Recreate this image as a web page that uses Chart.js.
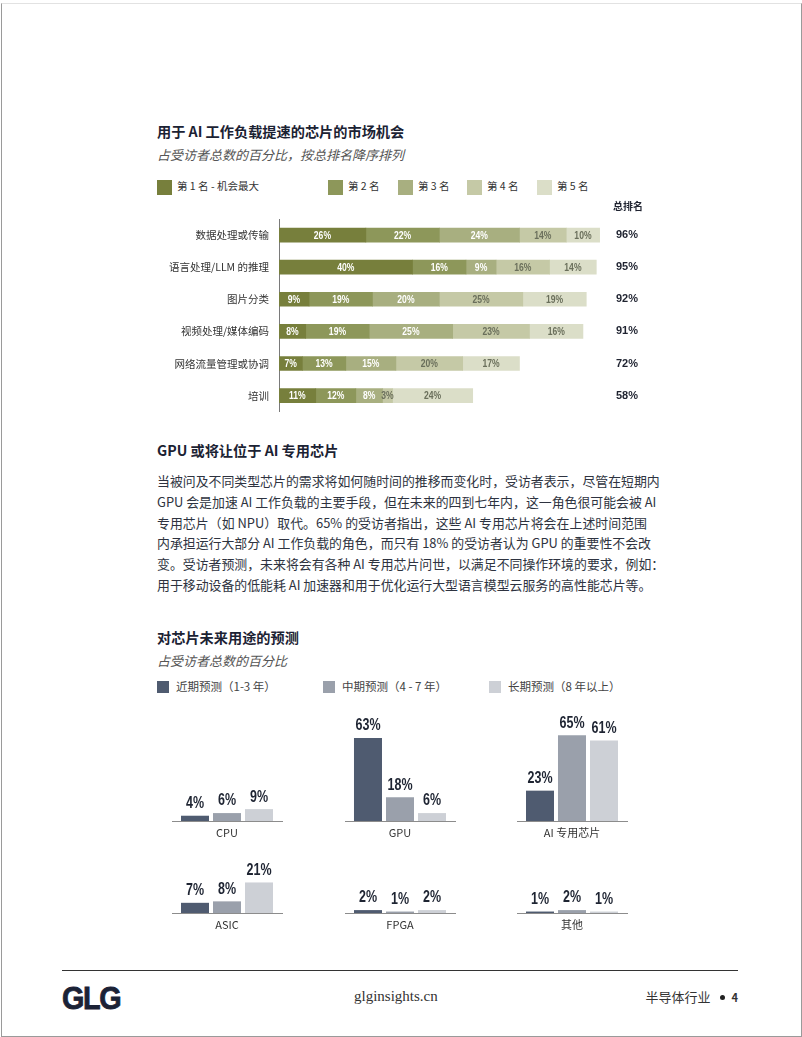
<!DOCTYPE html>
<html>
<head>
<meta charset="utf-8">
<script src="https://cdn.jsdelivr.net/npm/chart.js@4.4.0/dist/chart.umd.min.js"></script>
<style>
  body { margin: 0; background: #fff; }
  #page { position: relative; width: 802px; height: 1037px; overflow: hidden; background: #fff;
    font-family: 'Noto Sans CJK SC', 'Noto Sans', sans-serif; color: #2a2f3a; }
  #frame { position: absolute; left: 1px; top: 3px; width: 799px; height: 1032px;
    border-left: 1px solid #9a9a9a; border-right: 1px solid #9a9a9a; border-bottom: 1px solid #9a9a9a; border-top: 1px solid #e2e2e2; }
  .abs { position: absolute; white-space: nowrap; line-height: 1; }
  .title { font-size: 14.2px; font-weight: 700; color: #1b2233; }
  .sub { font-size: 13px; font-style: italic; color: #555; }
  .leg { font-size: 10.5px; color: #333; }
  .sw { position: absolute; }
  #para { position: absolute; left: 157px; top: 471px; width: 490px; font-size: 12.9px; line-height: 20.8px; color: #2e3340; }
  #para div { text-align: justify; text-align-last: justify; white-space: nowrap; }
  #para div.last { text-align-last: left; }
  canvas { position: absolute; }
</style>
</head>
<body>
<div id="page">
  <div id="frame"></div>

  <div class="abs title" style="left:157px; top:124px;">用于 AI 工作负载提速的芯片的市场机会</div>
  <div class="abs sub" style="left:157px; top:148px;">占受访者总数的百分比，按总排名降序排列</div>
  <div id="legend1"></div>
  <div id="wrap1"><canvas id="rankChart"></canvas></div>

  <div class="abs title" style="left:157px; top:443px;">GPU 或将让位于 AI 专用芯片</div>
  <div id="para">
    <div>当被问及不同类型芯片的需求将如何随时间的推移而变化时，受访者表示，尽管在短期内</div>
    <div>GPU 会是加速 AI 工作负载的主要手段，但在未来的四到七年内，这一角色很可能会被 AI</div>
    <div>专用芯片（如 NPU）取代。65% 的受访者指出，这些 AI 专用芯片将会在上述时间范围</div>
    <div>内承担运行大部分 AI 工作负载的角色，而只有 18% 的受访者认为 GPU 的重要性不会改</div>
    <div>变。受访者预测，未来将会有各种 AI 专用芯片问世，以满足不同操作环境的要求，例如：</div>
    <div class="last">用于移动设备的低能耗 AI 加速器和用于优化运行大型语言模型云服务的高性能芯片等。</div>
  </div>

  <div class="abs title" style="left:157px; top:630px;">对芯片未来用途的预测</div>
  <div class="abs sub" style="left:157px; top:654px;">占受访者总数的百分比</div>
  <div id="legend2"></div>
  <div id="panels"></div>

  <div style="position:absolute; left:62px; top:970px; width:676px; height:1px; background:#333;"></div>
  <div class="abs" style="left:62px; top:982px; font-family:'Liberation Sans', Arial, sans-serif; font-weight:700; font-size:32px; letter-spacing:-1.5px; color:#1b2236; transform:scaleX(0.9); transform-origin:left top; -webkit-text-stroke:0.8px #1b2236;">GLG</div>
  <div class="abs" style="left:354px; top:989px; font-family:'Liberation Serif', 'DejaVu Serif', serif; font-size:15px; color:#333;">glginsights.cn</div>
  <div class="abs" style="right:64px; top:990px; font-size:13px; color:#333;">半导体行业<span style="display:inline-block; width:5px; height:5px; border-radius:50%; background:#222; margin:0 7px 2px 9px; vertical-align:middle;"></span><b style="font-size:11px;">4</b></div>
</div>

<script>
// top chart: ranking of chip opportunities
const useCases = ['数据处理或传输', '语言处理/LLM 的推理', '图片分类', '视频处理/媒体编码', '网络流量管理或协调', '培训'];
const rank1 = [26, 40, 9, 8, 7, 11];
const rank2 = [22, 16, 19, 19, 13, 12];
const rank3 = [24, 9, 20, 25, 15, 8];
const rank4 = [14, 16, 25, 23, 20, 3];
const rank5 = [10, 14, 19, 16, 17, 24];
const overall = [96, 95, 92, 91, 72, 58];
const rankNames = ['第 1 名 - 机会最大', '第 2 名', '第 3 名', '第 4 名', '第 5 名'];
const overallTitle = '总排名';

// bottom charts: future use of chips
const chipTypes = ['CPU', 'GPU', 'AI 专用芯片', 'ASIC', 'FPGA', '其他'];
const nearTerm = [4, 63, 23, 7, 2, 1];
const midTerm = [6, 18, 65, 8, 1, 2];
const longTerm = [9, 6, 61, 21, 2, 1];
const horizonNames = ['近期预测（1-3 年）', '中期预测（4 - 7 年）', '长期预测（8 年以上）'];

const rankColors = ['#777f3c', '#8d975a', '#a8af80', '#c5c9a6', '#dbdec8'];
const rankText = ['#fff', '#fff', '#fff', '#6a6f5b', '#6a6f5b'];
const horizonColors = ['#4f5b70', '#9aa0ab', '#cdd0d6'];
const numFont = "'Liberation Sans', Arial, sans-serif";

Chart.defaults.font.family = "'Noto Sans CJK SC', 'Noto Sans', sans-serif";
Chart.defaults.animation = false;

// narrow-looking numbers: squeeze text horizontally
function narrowText(ctx, txt, x, y, sx) {
  ctx.save();
  ctx.translate(x, y);
  ctx.scale(sx, 1);
  ctx.fillText(txt, 0, 0);
  ctx.restore();
}

// legends
const leg1 = document.getElementById('legend1');
const leg1X = [157, 328, 398, 467, 537];
rankNames.forEach((n, i) => {
  leg1.insertAdjacentHTML('beforeend',
    `<div class="sw" style="left:${leg1X[i]}px; top:180px; width:15px; height:15px; background:${rankColors[i]};"></div>` +
    `<div class="abs leg" style="left:${leg1X[i] + 20}px; top:181px;">${n}</div>`);
});
const leg2 = document.getElementById('legend2');
const leg2X = [157, 323, 489];
horizonNames.forEach((n, i) => {
  leg2.insertAdjacentHTML('beforeend',
    `<div class="sw" style="left:${leg2X[i]}px; top:681px; width:12px; height:12px; background:${horizonColors[i]};"></div>` +
    `<div class="abs leg" style="left:${leg2X[i] + 19}px; top:681px; font-size:11.5px; color:#444;">${n}</div>`);
});

// stacked bar labels + overall column
const stackLabels = {
  id: 'stackLabels',
  afterDatasetsDraw(chart) {
    const ctx = chart.ctx;
    ctx.save();
    ctx.font = `700 11px ${numFont}`;
    ctx.textAlign = 'center';
    ctx.textBaseline = 'middle';
    chart.data.datasets.forEach((ds, di) => {
      chart.getDatasetMeta(di).data.forEach((el, i) => {
        ctx.fillStyle = rankText[di];
        narrowText(ctx, ds.data[i] + '%', (el.x + el.base) / 2, el.y + 0.5, 0.78);
      });
    });
    const rx = chart.width - 12;
    ctx.textAlign = 'right';
    ctx.fillStyle = '#1f2330';
    ctx.font = "700 10px 'Noto Sans CJK SC', sans-serif";
    ctx.fillText(overallTitle, rx + 5, chart.chartArea.top - 13);
    ctx.font = "700 11px 'Liberation Sans', Arial, sans-serif";
    const meta = chart.getDatasetMeta(0);
    overall.forEach((v, i) => ctx.fillText(v + '%', rx, meta.data[i].y));
    ctx.restore();
  }
};

const c1 = document.getElementById('rankChart');
c1.style.left = '157px'; c1.style.top = '195px';
c1.width = 493; c1.height = 233;
c1.style.width = '493px'; c1.style.height = '233px';
const rankSeries = [rank1, rank2, rank3, rank4, rank5];
new Chart(c1, {
  type: 'bar',
  data: {
    labels: useCases,
    datasets: rankSeries.map((d, i) => ({
      label: rankNames[i], data: d, backgroundColor: rankColors[i], borderWidth: 0, barThickness: 14
    }))
  },
  options: {
    indexAxis: 'y',
    responsive: false,
    layout: { padding: { top: 24, right: 37, bottom: 4, left: 0 } },
    plugins: { legend: { display: false }, tooltip: { enabled: false } },
    scales: {
      x: { stacked: true, min: 0, max: 100, display: false },
      y: {
        stacked: true,
        grid: { display: false, drawTicks: false },
        border: { display: true, color: '#7a7a7a', width: 1 },
        ticks: { color: '#333', font: { size: 10.5 }, padding: 10 },
        afterFit: s => { s.width = 122; }
      }
    }
  },
  plugins: [stackLabels]
});

// small multiples
const valueLabels = {
  id: 'valueLabels',
  afterDatasetsDraw(chart) {
    const ctx = chart.ctx;
    ctx.save();
    ctx.font = `700 16px ${numFont}`;
    ctx.fillStyle = '#1e2432';
    ctx.textAlign = 'center';
    ctx.textBaseline = 'middle';
    chart.data.datasets.forEach((ds, di) => {
      chart.getDatasetMeta(di).data.forEach((el, i) => {
        narrowText(ctx, ds.data[i] + '%', el.x, el.y - 12, 0.78);
      });
    });
    ctx.restore();
  }
};

const panelBox = document.getElementById('panels');
const panelLeft = [162, 335, 507];
chipTypes.forEach((chip, k) => {
  const row = k < 3 ? 0 : 1;
  const cv = document.createElement('canvas');
  const top = row === 0 ? 696 : 855;
  const h = row === 0 ? 145 : 78;
  cv.width = 130; cv.height = h;
  cv.style.width = '130px'; cv.style.height = h + 'px';
  cv.style.left = panelLeft[k % 3] + 'px'; cv.style.top = top + 'px';
  panelBox.appendChild(cv);
  const vals = [nearTerm[k], midTerm[k], longTerm[k]];
  new Chart(cv, {
    type: 'bar',
    data: {
      labels: [chip],
      datasets: vals.map((v, i) => ({
        label: horizonNames[i], data: [v], backgroundColor: horizonColors[i], borderWidth: 0,
        categoryPercentage: 0.873, barPercentage: 0.875
      }))
    },
    options: {
      responsive: false,
      layout: { padding: { top: row === 0 ? 30 : 10, left: 10, right: 10, bottom: 0 } },
      plugins: { legend: { display: false }, tooltip: { enabled: false } },
      scales: {
        x: {
          grid: { display: false, drawTicks: false },
          border: { display: true, color: '#8c8c8c', width: 1 },
          ticks: { color: '#333', font: { size: 11 }, padding: 5 },
          afterFit: s => { s.height = 20; }
        },
        y: { display: false, min: 0, max: row === 0 ? 72 : 33 }
      }
    },
    plugins: [valueLabels]
  });
});
</script>
</body>
</html>
